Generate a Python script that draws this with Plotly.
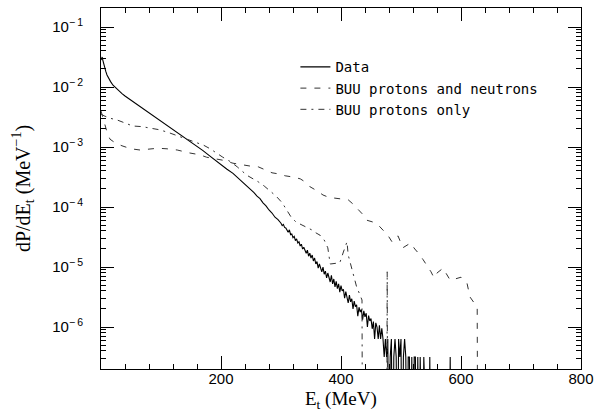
import numpy as np
import plotly.graph_objects as go

# ---- Data (log10 of dP/dEt); -9 marks empty bins ----
data_E = [0, 1, 2, 3, 4, 6, 8, 10, 13, 16, 20, 25, 30, 35, 40, 50, 60, 70, 80, 90,
          100, 110, 120, 130, 140, 150, 160, 170, 180, 190, 200, 210, 220, 230, 240,
          250, 255, 260, 265, 270, 275, 280, 285, 290, 295,
          300, 302, 304, 306, 308, 310, 312, 314, 316, 318, 320, 322, 324, 326, 328,
          330, 332, 334, 336, 338, 340, 342, 344, 346, 348, 350, 352, 354, 356, 358,
          360, 362, 364, 366, 368, 370, 372, 374, 376, 378, 380, 382, 384, 386, 388,
          390, 392, 394, 396, 398, 400, 402, 404, 406, 408, 410, 412, 414, 416, 418,
          420, 422, 424, 426, 428, 430, 432, 434, 436, 438, 440, 442, 444, 446, 448,
          450, 452, 454, 456, 458, 460, 462, 464, 466, 468, 470, 472, 474, 476, 478,
          480, 482, 484, 486, 488, 490, 492, 494, 496, 498, 500, 502, 504, 506, 508,
          510, 512, 514, 516, 518, 520, 522, 524, 526, 528, 530, 532, 534, 536, 538,
          540, 546, 548, 550, 580, 582, 584]
data_log = [-1.55, -1.5, -1.5, -1.55, -1.6, -1.68, -1.74, -1.8, -1.86, -1.91, -1.97, -2.02, -2.07, -2.11, -2.15, -2.22, -2.29, -2.36, -2.42, -2.49,
            -2.56, -2.63, -2.7, -2.77, -2.85, -2.92, -2.99, -3.06, -3.14, -3.22, -3.3, -3.37, -3.44, -3.53, -3.62,
            -3.72, -3.76, -3.82, -3.86, -3.93, -3.98, -4.05, -4.1, -4.17, -4.21,
            -4.27, -4.31, -4.29, -4.34, -4.35, -4.38, -4.42, -4.38, -4.46, -4.45, -4.51, -4.49, -4.56, -4.53, -4.6,
            -4.58, -4.65, -4.62, -4.7, -4.67, -4.71, -4.77, -4.72, -4.82, -4.77, -4.85, -4.8, -4.9, -4.85, -4.95,
            -4.91, -5.02, -4.95, -5.01, -5.08, -5.0, -5.12, -5.07, -5.18, -5.1, -5.16, -5.25, -5.14, -5.28, -5.2,
            -5.33, -5.24, -5.36, -5.28, -5.42, -5.31, -5.4, -5.37, -5.52, -5.41, -5.49, -5.6, -5.47, -5.58, -5.53,
            -5.7, -5.57, -5.66, -5.63, -5.82, -5.67, -5.75, -5.71, -5.88, -5.73, -5.83, -5.77, -6.0, -5.81, -5.9,
            -5.86, -6.03, -5.91, -6.2, -5.93, -6.0, -6.2, -5.97, -6.2, -6.02, -6.2, -6.5, -6.2, -6.5, -6.2,
            -9, -6.5, -6.2, -9, -6.5, -6.2, -6.5, -9, -6.2, -6.5, -6.2, -9, -6.5, -6.2, -6.5,
            -9, -6.5, -6.5, -9, -6.5, -9, -6.5, -6.5, -9, -6.5, -9, -6.5, -9, -9, -6.5,
            -9, -9, -6.5, -9, -9, -6.5, -9]

# ---- BUU protons and neutrons ----
pn_E = [0, 5, 10, 15, 25, 35, 50, 65, 80, 95, 110, 127, 148, 165, 176, 190, 203, 220, 237, 250,
        262, 275, 285, 297, 307, 320, 332, 340, 348, 360, 370, 380, 390, 400, 412, 420, 428, 436,
        443, 453, 462, 470, 478, 485, 495, 503, 510, 516, 523, 530, 537, 543, 550, 555, 560, 570,
        576, 582, 590, 600, 610, 615, 622, 627, 628]
pn_log = [-2.4, -2.6, -2.75, -2.87, -2.94, -2.98, -3.03, -3.05, -3.04, -3.02, -3.03, -3.05, -3.1, -3.13, -3.17, -3.2, -3.22, -3.27, -3.3, -3.32,
          -3.33, -3.38, -3.43, -3.45, -3.48, -3.5, -3.53, -3.58, -3.66, -3.73, -3.8, -3.84, -3.85, -3.86, -3.88, -3.95, -4.03, -4.12,
          -4.22, -4.25, -4.3, -4.38, -4.47, -4.58, -4.48, -4.68, -4.64, -4.6, -4.7, -4.78, -4.88, -4.97, -5.08, -5.18, -5.1, -5.02,
          -5.12, -5.22, -5.2, -5.17, -5.27, -5.5, -5.6, -5.67, -9]

# ---- BUU protons only ----
p_E = [0, 5, 15, 27, 40, 53, 68, 82, 96, 110, 121, 132, 146, 160, 171, 182, 192, 203, 215, 227,
       243, 252, 262, 272, 282, 292, 302, 310, 317, 325, 335, 343, 351, 358, 365, 372, 378, 382,
       390, 398, 404, 410, 412, 419, 426, 431, 435, 436, 476, 477, 478]
p_log = [-2.45, -2.48, -2.52, -2.55, -2.6, -2.65, -2.66, -2.68, -2.71, -2.75, -2.79, -2.83, -2.87, -2.92, -2.97, -3.03, -3.1, -3.17, -3.24, -3.33,
         -3.47, -3.52, -3.58, -3.65, -3.74, -3.82, -3.93, -4.05, -4.17, -4.25, -4.3, -4.35, -4.38, -4.43, -4.47, -4.55, -4.68, -4.95,
         -4.94, -4.93, -4.75, -4.58, -4.8, -5.05, -5.33, -5.45, -5.55, -9, -9, -5.08, -9]

# ---- Tick positions and labels ----
x_ticks = [200, 400, 600, 800]
x_ticktext = ["200", "400", "600", "800"]
x_minor = [40, 80, 120, 160, 240, 280, 320, 360, 440, 480, 520, 560, 640, 680, 720, 760]
y_exponents = [-6, -5, -4, -3, -2, -1]
y_ticks = [10.0 ** e for e in y_exponents]
y_ticktext = ["10<sup>−\u2009%d</sup>" % (-e) for e in y_exponents]
y_minor = [m * 10.0 ** e for e in range(-7, 0) for m in range(2, 10)]

fig = go.Figure()
fig.add_trace(go.Scatter(x=data_E, y=np.power(10.0, data_log), mode="lines",
                         name="Data", line=dict(color="black", width=1.1)))
fig.add_trace(go.Scatter(x=pn_E, y=np.power(10.0, pn_log), mode="lines",
                         name="BUU protons and neutrons",
                         line=dict(color="#333", width=1, dash="6px,8px")))
fig.add_trace(go.Scatter(x=p_E, y=np.power(10.0, p_log), mode="lines",
                         name="BUU protons only",
                         line=dict(color="#333", width=1, dash="6px,5px,2px,5px")))

tickfont = dict(family="Liberation Sans, Arial, sans-serif", size=15, color="black")
titlefont = dict(family="Liberation Serif, Times New Roman, serif", size=20, color="black")

fig.update_layout(
    width=604, height=412,
    margin=dict(l=101, r=23, t=8, b=43, autoexpand=False),
    paper_bgcolor="white", plot_bgcolor="white",
    showlegend=True,
    legend=dict(x=0.405, y=0.88, xanchor="left", yanchor="top",
                bgcolor="rgba(0,0,0,0)", borderwidth=0, tracegroupgap=0,
                font=dict(family="DejaVu Sans Mono, Liberation Mono, monospace", size=14, color="black")),
    xaxis=dict(range=[0, 800], tickmode="array", tickvals=x_ticks, ticktext=x_ticktext,
               ticks="inside", ticklen=13, tickwidth=1, tickcolor="black",
               showline=True, linecolor="black", linewidth=1, mirror="ticks",
               showgrid=False, zeroline=False, tickfont=tickfont, automargin=False,
               ticklabelstandoff=-4,
               minor=dict(tickmode="array", tickvals=x_minor, ticks="inside", ticklen=5,
                          tickcolor="black", showgrid=False)),
    yaxis=dict(type="log", range=[-6.70, -0.683], tickmode="array",
               tickvals=y_ticks, ticktext=y_ticktext,
               ticks="inside", ticklen=13, tickwidth=1, tickcolor="black",
               showline=True, linecolor="black", linewidth=1, mirror="ticks",
               showgrid=False, zeroline=False, tickfont=tickfont, automargin=False,
               ticklabelstandoff=14,
               minor=dict(tickmode="array", tickvals=y_minor, ticks="inside", ticklen=5,
                          tickcolor="black", showgrid=False),
               title=dict(text="dP/dE<sub>t</sub> (MeV<sup>−1</sup>)", font=titlefont, standoff=16)),
    annotations=[dict(text="E<sub>t</sub> (MeV)", xref="paper", yref="paper",
                      x=0.5, y=-0.086, xanchor="center", yanchor="middle",
                      showarrow=False, font=dict(family="Liberation Serif, Times New Roman, serif",
                                                 size=19, color="black"))],
)

fig.write_html("out.html")
